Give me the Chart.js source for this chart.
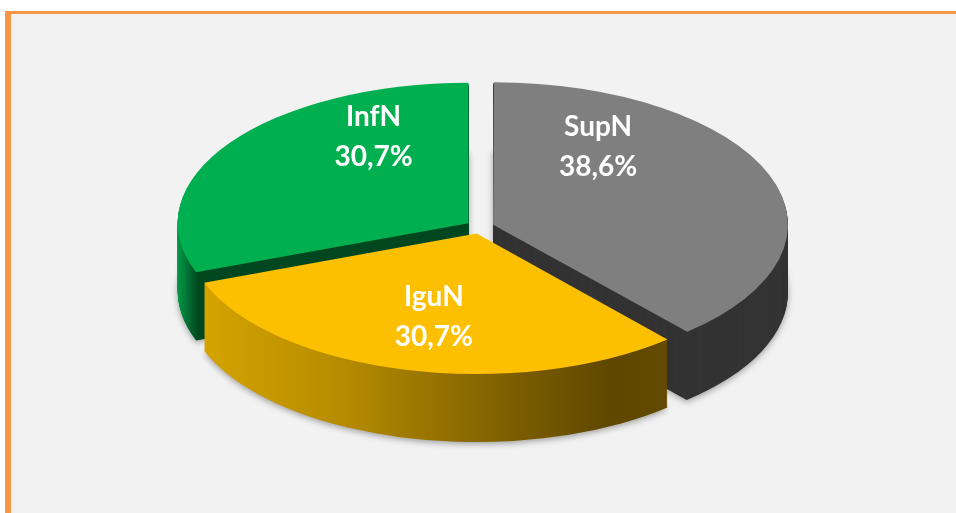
<!DOCTYPE html>
<html>
<head>
<meta charset="utf-8">
<script src="https://cdn.jsdelivr.net/npm/chart.js@4.4.1/dist/chart.umd.min.js"></script>
<style>
  html, body { margin: 0; padding: 0; background: #fff; width: 956px; height: 513px; overflow: hidden; }
  #frame { position: absolute; left: 5px; top: 11px; width: 960px; height: 510px; background: #f2f2f2;
           border-left: 6px solid #f79646; border-top: 3px solid #f79646; }
  #pie { position: absolute; left: 0; top: 0; }
</style>
</head>
<body>
<div id="frame"></div>
<canvas id="pie" width="956" height="513"></canvas>
<script>
const categories = ["SupN", "IguN", "InfN"];
const shares = [38.6, 30.7, 30.7];
const topColors = ["#7f7f7f", "#fcc000", "#00b050"];

// Fake 3D: the disc is squashed vertically and extruded downwards.
const TILT = 0.483;
const DEPTH = 68;
const CENTER_Y = 227;

function fmtPct(v) {
  return v.toFixed(1).replace(".", ",") + "%";
}

function tilt(chart, ctx) {
  const a = chart.chartArea;
  ctx.translate(0, CENTER_Y);
  ctx.scale(1, TILT);
  ctx.translate(0, -(a.top + a.bottom) / 2);
}

// same geometry ArcElement.draw uses (offset/4 shift, radius fix)
function slicePath(ctx, arc, dy) {
  const off = (arc.options.offset || 0) / 4;
  const mid = (arc.startAngle + arc.endAngle) / 2;
  const fix = 1 - Math.sin(Math.min(Math.PI, arc.circumference));
  const x = arc.x + Math.cos(mid) * off;
  const y = arc.y + Math.sin(mid) * off + dy;
  ctx.beginPath();
  ctx.moveTo(x, y);
  ctx.arc(x, y, arc.outerRadius + off * fix, arc.startAngle, arc.endAngle);
  ctx.closePath();
}

function wallFill(ctx, w) {
  if (typeof w === "string") return w;
  const g = ctx.createLinearGradient(w.x0, 0, w.x1, 0);
  w.stops.forEach(s => g.addColorStop(s[0], s[1]));
  return g;
}

const pie3d = {
  id: "pie3d",
  beforeDatasetsDraw(chart, args, opts) {
    const ctx = chart.ctx;
    const arcs = chart.getDatasetMeta(0).data;
    const fills = opts.walls.map(w => wallFill(ctx, w));
    ctx.save();
    tilt(chart, ctx);
    for (let d = DEPTH; d >= 1; d--) {
      opts.order.forEach(i => {
        slicePath(ctx, arcs[i], d / TILT);
        if (d === DEPTH) {
          ctx.shadowColor = "rgba(0,0,0,0.35)";
          ctx.shadowBlur = 6;
          ctx.shadowOffsetY = 2;
        }
        ctx.fillStyle = fills[i];
        ctx.fill();
        ctx.shadowColor = "transparent";
      });
    }
    // leave the tilt on: Chart.js draws the top faces next
  },
  afterDatasetsDraw(chart, args, opts) {
    const ctx = chart.ctx;
    ctx.restore();
    const a = chart.chartArea;
    const cyc = (a.top + a.bottom) / 2;
    const arcs = chart.getDatasetMeta(0).data;
    ctx.save();
    ctx.fillStyle = "#fff";
    ctx.font = "bold 28px Lato";
    ctx.textAlign = "center";
    ctx.textBaseline = "alphabetic";
    arcs.forEach((arc, i) => {
      const off = (arc.options.offset || 0) / 4;
      const mid = (arc.startAngle + arc.endAngle) / 2;
      const r = arc.outerRadius * opts.labelRadius + off;
      const x = arc.x + Math.cos(mid) * r + opts.nudge[i][0];
      const y = CENTER_Y + (arc.y + Math.sin(mid) * r - cyc) * TILT + opts.nudge[i][1];
      ctx.fillText(categories[i], x, y - 10);
      ctx.fillText(fmtPct(shares[i]), x, y + 30);
    });
    ctx.restore();
  }
};

new Chart(document.getElementById("pie"), {
  type: "pie",
  data: {
    labels: categories,
    datasets: [{
      data: shares,
      backgroundColor: topColors,
      borderWidth: 0,
      offset: 56,
      radius: 290,
      clip: false
    }]
  },
  options: {
    responsive: false,
    devicePixelRatio: 1,
    animation: false,
    events: [],
    layout: { padding: { left: 4 } },
    plugins: {
      legend: { display: false },
      tooltip: { enabled: false },
      pie3d: {
        order: [2, 0, 1],
        walls: [
          "#333333",
          { x0: 190, x1: 705, stops: [[0, "#d8a600"], [0.3, "#b58b00"], [0.62, "#7d5f00"], [0.82, "#5f4700"], [1, "#664c00"]] },
          { x0: 176, x1: 198, stops: [[0, "#00a04a"], [1, "#00461f"]] }
        ],
        labelRadius: 0.6,
        nudge: [[-58, -49], [0, 1], [48, -39]]
      }
    }
  },
  plugins: [pie3d]
});
</script>
</body>
</html>
